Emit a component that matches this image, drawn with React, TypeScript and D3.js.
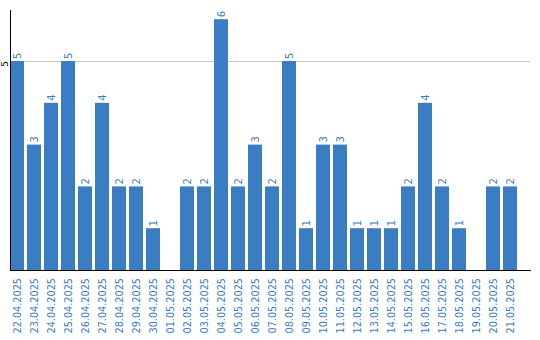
import React from "react";
import * as d3 from "d3";

const categories = ["22.04.2025","23.04.2025","24.04.2025","25.04.2025","26.04.2025","27.04.2025","28.04.2025","29.04.2025","30.04.2025","01.05.2025","02.05.2025","03.05.2025","04.05.2025","05.05.2025","06.05.2025","07.05.2025","08.05.2025","09.05.2025","10.05.2025","11.05.2025","12.05.2025","13.05.2025","14.05.2025","15.05.2025","16.05.2025","17.05.2025","18.05.2025","19.05.2025","20.05.2025","21.05.2025"];
const values = [5,3,4,5,2,4,2,2,1,0,2,2,6,2,3,2,5,1,3,3,1,1,1,2,4,2,1,0,2,2];
const yTicks = [5];

const W = 540, H = 340;
const BLUE = "#3b7dc2";

export default function App() {
  const x = d3.scaleBand<string>().domain(categories).range([10, 517]).paddingInner(3 / 17).paddingOuter(0);
  const y = d3.scaleLinear().domain([0, 6]).range([270, 19.2]);
  const font = "DejaVu Sans, Verdana, sans-serif";
  return (
    <svg width={W} height={H} style={{ position: "absolute", left: 0, top: 0 }}>
      {yTicks.map(t => (
        <g key={t}>
          <line x1={10} x2={530} y1={y(t) + 0.5} y2={y(t) + 0.5} stroke="#c8c8c8" />
          <text transform={`translate(7.5,${y(t) + 3}) rotate(-90)`} textAnchor="middle" fontFamily={font} fontSize={9} fill="#000">{t}</text>
        </g>
      ))}
      {categories.map((c, i) => values[i] > 0 ? (
        <rect key={c} x={x(c)} y={y(values[i])} width={x.bandwidth()} height={270 - y(values[i])} fill={BLUE} />
      ) : null)}
      {categories.map((c, i) => values[i] > 0 ? (
        <text key={"v" + c} transform={`translate(${(x(c) as number) + x.bandwidth() / 2 + 3.5},${y(values[i]) - 2}) rotate(-90)`} fontFamily={font} fontSize={10} fill={BLUE}>{values[i]}</text>
      ) : null)}
      <line x1={10.5} x2={10.5} y1={10} y2={270} stroke="#000" />
      <line x1={10} x2={531} y1={270.5} y2={270.5} stroke="#000" />
      {categories.map(c => (
        <text key={"l" + c} transform={`translate(${(x(c) as number) + x.bandwidth() / 2 + 3.5},278) rotate(-90)`} textAnchor="end" fontFamily={font} fontSize={9.7} fill={BLUE}>{c}</text>
      ))}
    </svg>
  );
}
